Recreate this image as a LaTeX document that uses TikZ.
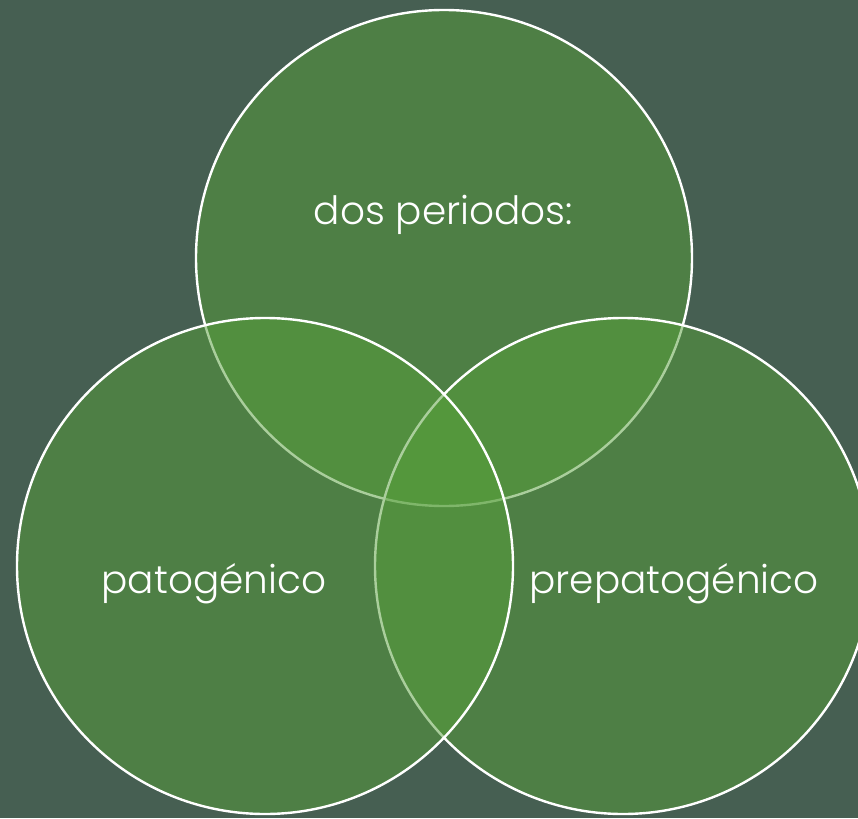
\documentclass[tikz,border=0pt]{standalone}
\usepackage{fontspec}
\setmainfont{Poppins}[UprightFont=* Light]
\definecolor{bgcol}{HTML}{465F52}
\definecolor{vfill}{HTML}{569F3A}
\tikzset{
  venn/.style={circle, minimum size=496pt, inner sep=0pt, fill=vfill, fill opacity=0.5, draw=white, draw opacity=1, line width=2.4pt},
  lbl/.style={text=white, font=\fontsize{39}{46}\selectfont, anchor=base, inner sep=0pt}
}
\begin{document}
\begin{tikzpicture}[x=1pt,y=-1pt]
\fill[bgcol] (0,0) rectangle (858,818);
\useasboundingbox (0,0) rectangle (858,818);
\node[venn] (top) at (444,258) {};
\node[venn] (right) at (623,566) {};
\node[venn] (left) at (265,566) {};
\node[lbl] (t1) at (443.5,225) {dos periodos:};
\node[lbl] (t2) at (214,593) {patogénico};
\node[lbl] (t3) at (674,593) {prepatogénico};
\end{tikzpicture}
\end{document}
